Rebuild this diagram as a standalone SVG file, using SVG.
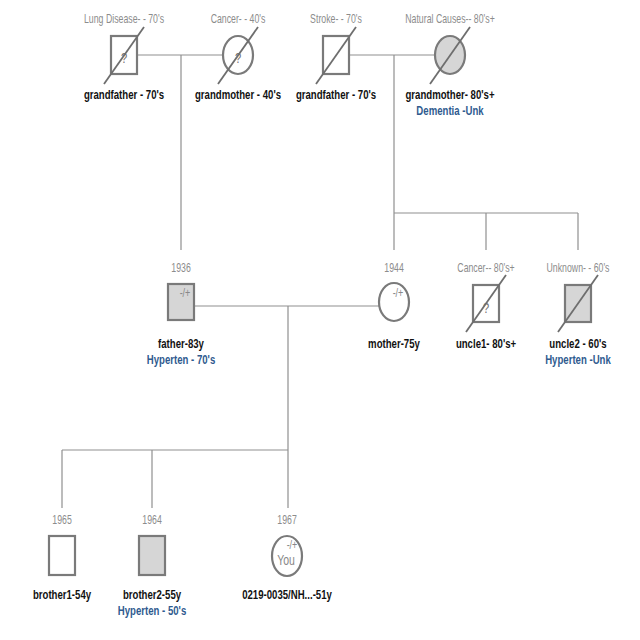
<svg xmlns="http://www.w3.org/2000/svg" width="640" height="640" viewBox="0 0 640 640">
<style>
.bg{fill:#ffffff}
.conn line{stroke:#8f8f8f;stroke-width:1.2;fill:none}
.sym{stroke:#7a7a7a;stroke-width:2.2;fill:#ffffff}
.aff{fill:#d6d6d6}
.dead{stroke:#6e6e6e;stroke-width:1.8}
text{font-family:"Liberation Sans",Arial,sans-serif;text-anchor:middle}
.cause{font-size:12px;fill:#8c8c8c}
.name{font-size:13px;font-weight:bold;fill:#111111}
.dx{font-size:13px;font-weight:bold;fill:#2f5b8f}
.q{font-size:14px;fill:#707070}
.gt{font-size:12px;fill:#888888}
.you{font-size:14px;fill:#888888}
</style>
<rect class="bg" x="0" y="0" width="640" height="640"/>
<g id="connectors" class="conn">
<line x1="137" y1="55" x2="223" y2="55"/>
<line x1="181" y1="55" x2="181" y2="250"/>
<line x1="349" y1="55" x2="435" y2="55"/>
<line x1="394" y1="55" x2="394" y2="250"/>
<line x1="394" y1="213" x2="578" y2="213"/>
<line x1="486" y1="213" x2="486" y2="250"/>
<line x1="578" y1="213" x2="578" y2="250"/>
<line x1="194" y1="306" x2="379" y2="306"/>
<line x1="288" y1="306" x2="288" y2="450"/>
<line x1="62" y1="450" x2="288" y2="450"/>
<line x1="62" y1="450" x2="62" y2="508"/>
<line x1="152" y1="450" x2="152" y2="508"/>
<line x1="288" y1="450" x2="288" y2="508"/>
</g>
<g id="grandfather1">
<text class="cause" transform="translate(124,23) scale(0.73,1)">Lung Disease- - 70's</text>
<rect class="sym" x="111" y="36" width="26" height="38"/>
<text class="q" transform="translate(124,63) scale(0.8,1)">?</text>
<line class="dead" x1="104" y1="84" x2="144" y2="27"/>
<text class="name" transform="translate(124,99) scale(0.74,1)">grandfather - 70's</text>
</g>
<g id="grandmother1">
<text class="cause" transform="translate(238,23) scale(0.73,1)">Cancer- - 40's</text>
<ellipse class="sym" cx="238" cy="55" rx="15" ry="19"/>
<text class="q" transform="translate(238,63) scale(0.8,1)">?</text>
<line class="dead" x1="218" y1="84" x2="258" y2="27"/>
<text class="name" transform="translate(238,99) scale(0.74,1)">grandmother - 40's</text>
</g>
<g id="grandfather2">
<text class="cause" transform="translate(336,23) scale(0.73,1)">Stroke- - 70's</text>
<rect class="sym" x="323" y="36" width="26" height="38"/>
<line class="dead" x1="316" y1="84" x2="356" y2="27"/>
<text class="name" transform="translate(336,99) scale(0.74,1)">grandfather - 70's</text>
</g>
<g id="grandmother2">
<text class="cause" transform="translate(450,23) scale(0.73,1)">Natural Causes-- 80's+</text>
<ellipse class="sym aff" cx="450" cy="55" rx="15" ry="19"/>
<line class="dead" x1="430" y1="84" x2="470" y2="27"/>
<text class="name" transform="translate(450,99) scale(0.74,1)">grandmother- 80's+</text>
<text class="dx" transform="translate(450,115) scale(0.74,1)">Dementia -Unk</text>
</g>
<g id="father">
<text class="cause" transform="translate(181,272) scale(0.73,1)">1936</text>
<rect class="sym aff" x="168" y="284" width="26" height="36"/>
<text class="gt" transform="translate(185,297) scale(0.75,1)">-/+</text>
<text class="name" transform="translate(181,348) scale(0.74,1)">father-83y</text>
<text class="dx" transform="translate(181,364) scale(0.74,1)">Hyperten - 70's</text>
</g>
<g id="mother">
<text class="cause" transform="translate(394,272) scale(0.73,1)">1944</text>
<ellipse class="sym" cx="394" cy="302" rx="15" ry="19"/>
<text class="gt" transform="translate(398,297) scale(0.75,1)">-/+</text>
<text class="name" transform="translate(394,348) scale(0.74,1)">mother-75y</text>
</g>
<g id="uncle1">
<text class="cause" transform="translate(486,272) scale(0.73,1)">Cancer-- 80's+</text>
<rect class="sym" x="473" y="285" width="26" height="37"/>
<text class="q" transform="translate(486,313) scale(0.8,1)">?</text>
<line class="dead" x1="466" y1="332" x2="506" y2="275"/>
<text class="name" transform="translate(486,348) scale(0.74,1)">uncle1- 80's+</text>
</g>
<g id="uncle2">
<text class="cause" transform="translate(578,272) scale(0.73,1)">Unknown- - 60's</text>
<rect class="sym aff" x="565" y="285" width="26" height="37"/>
<line class="dead" x1="558" y1="332" x2="598" y2="275"/>
<text class="name" transform="translate(578,348) scale(0.74,1)">uncle2 - 60's</text>
<text class="dx" transform="translate(578,364) scale(0.74,1)">Hyperten -Unk</text>
</g>
<g id="brother1">
<text class="cause" transform="translate(62,524) scale(0.73,1)">1965</text>
<rect class="sym" x="49" y="536" width="26" height="39"/>
<text class="name" transform="translate(62,599) scale(0.74,1)">brother1-54y</text>
</g>
<g id="brother2">
<text class="cause" transform="translate(152,524) scale(0.73,1)">1964</text>
<rect class="sym aff" x="139" y="536" width="26" height="39"/>
<text class="name" transform="translate(152,599) scale(0.74,1)">brother2-55y</text>
<text class="dx" transform="translate(152,615) scale(0.74,1)">Hyperten - 50's</text>
</g>
<g id="you">
<text class="cause" transform="translate(287,524) scale(0.73,1)">1967</text>
<ellipse class="sym" cx="287" cy="556" rx="15" ry="20"/>
<text class="gt" transform="translate(292,549) scale(0.75,1)">-/+</text>
<text class="you" transform="translate(286,565) scale(0.75,1)">You</text>
<text class="name" transform="translate(287,599) scale(0.74,1)">0219-0035/NH...-51y</text>
</g>
</svg>
